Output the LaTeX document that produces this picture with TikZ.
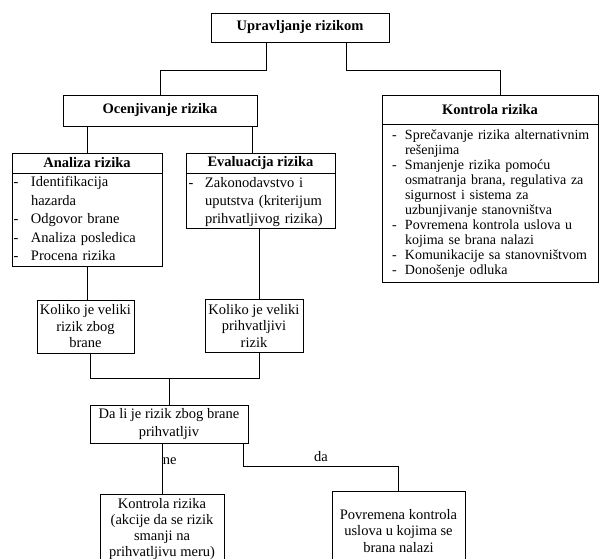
\documentclass[tikz,border=0pt]{standalone}
\usepackage{fontspec}
\setmainfont{Liberation Serif}

\tikzset{
  okvir/.style={draw=black, line width=0.9pt, inner sep=1pt, align=center,
    font=\fontsize{14.5}{16.5}\selectfont},
  zaglavlje/.style={okvir, font=\fontsize{14.5}{17}\selectfont\bfseries},
  lista/.style={okvir, anchor=north, align=left},
  spojnica/.style={draw=black, line width=0.55pt},
}

\begin{document}
\begin{tikzpicture}[x=1pt, y=-1pt]
  \useasboundingbox (0,0) rectangle (600,559);
  % vrh
  \node[zaglavlje, minimum width=178pt, minimum height=29pt] (upravljanje) at (300,27.5) {Upravljanje rizikom};
  % ocenjivanje i kontrola
  \node[zaglavlje, minimum width=194pt, minimum height=31pt] (ocenjivanje) at (160,110.5) {Ocenjivanje rizika};
  \node[zaglavlje, minimum width=216pt, minimum height=29pt] (kontrola) at (490,109.5) {Kontrola rizika};
  \node[lista, text width=196pt, inner xsep=10pt, inner ysep=4pt, font=\fontsize{14}{15}\selectfont] (kontrolaL) at (kontrola.south) {%
    \begin{tabular}{@{}p{13pt}@{}l@{}}
      - & Sprečavanje rizika alternativnim\\
        & rešenjima\\
      - & Smanjenje rizika pomoću\\
        & osmatranja brana, regulativa za\\
        & sigurnost i sistema za\\
        & uzbunjivanje stanovništva\\
      - & Povremena kontrola uslova u\\
        & kojima se brana nalazi\\
      - & Komunikacije sa stanovništvom\\
      - & Donošenje odluka
    \end{tabular}};
  % analiza i evaluacija
  \node[zaglavlje, minimum width=150pt, minimum height=20pt] (analiza) at (87,163) {Analiza rizika};
  \node[lista, text width=147pt, inner xsep=1.5pt, inner ysep=0pt, font=\fontsize{14.5}{18.5}\selectfont] (analizaL) at (analiza.south) {%
    \begin{tabular}{@{}p{17.5pt}@{}l@{}}
      - & Identifikacija\\
        & hazarda\\
      - & Odgovor brane\\
      - & Analiza posledica\\
      - & Procena rizika
    \end{tabular}};
  \node[zaglavlje, minimum width=149pt, minimum height=20pt] (evaluacija) at (260.5,163) {Evaluacija rizika};
  \node[lista, text width=144pt, inner xsep=2.5pt, inner ysep=0.5pt, font=\fontsize{14.5}{18}\selectfont] (evaluacijaL) at (evaluacija.south) {%
    \begin{tabular}{@{}p{16.5pt}@{}l@{}}
      - & Zakonodavstvo i\\
        & uputstva (kriterijum\\
        & prihvatljivog rizika)
    \end{tabular}};
  % pitanja
  \node[okvir, minimum width=97pt, minimum height=53pt] (koliko1) at (85.5,326.5) {Koliko je veliki\\rizik zbog\\brane};
  \node[okvir, minimum width=98pt, minimum height=53pt] (koliko2) at (254,325.5) {Koliko je veliki\\prihvatljivi\\rizik};
  \node[okvir, minimum width=158pt, minimum height=38pt, font=\fontsize{14.5}{18}\selectfont] (dali) at (169,424) {Da li je rizik zbog brane\\prihvatljiv};
  % ishodi
  \node[okvir, minimum width=124pt, minimum height=70pt, font=\fontsize{14.5}{16}\selectfont] (kontrola2) at (162,529) {Kontrola rizika\\(akcije da se rizik\\smanji na\\prihvatljivu meru)};
  \node[okvir, minimum width=133pt, minimum height=80pt] (povremena) at (398.5,531) {Povremena kontrola\\uslova u kojima se\\brana nalazi};

  % spojnice
  \draw[spojnica] ([xshift=-34pt]upravljanje.south) -- ++(0,28) -| (ocenjivanje.north);
  \draw[spojnica] ([xshift=46pt]upravljanje.south) -- ++(0,28) -| ([xshift=10pt]kontrola.north);
  \draw[spojnica] (ocenjivanje.south -| analiza.north) -- (analiza.north);
  \draw[spojnica] ([xshift=-8.5pt]evaluacija.north) -- ([xshift=-8.5pt]evaluacija.north |- ocenjivanje.south);
  \draw[spojnica] (analizaL.south) -- (analizaL.south |- koliko1.north);
  \draw[spojnica] ([xshift=-1.5pt]evaluacijaL.south) -- ([xshift=-1.5pt]evaluacijaL.south |- koliko2.north);
  \coordinate (spoj) at ([yshift=-25pt]koliko1.south -| dali.north);
  \draw[spojnica] ([xshift=4.5pt]koliko1.south) |- (spoj) -| ([xshift=5pt]koliko2.south);
  \draw[spojnica] (spoj) -- (dali.north);
  \draw[spojnica] (dali.south -| kontrola2.north) -- (kontrola2.north)
    node[pos=0.35, anchor=west, inner sep=0.5pt, font=\fontsize{14.5}{16.5}\selectfont] {ne};
  \draw[spojnica] ([xshift=-5pt]dali.south east) -- ++(0,23) -| (povremena.north)
    node[pos=0.25, above=1pt, font=\fontsize{14.5}{16.5}\selectfont] {da};
\end{tikzpicture}
\end{document}
